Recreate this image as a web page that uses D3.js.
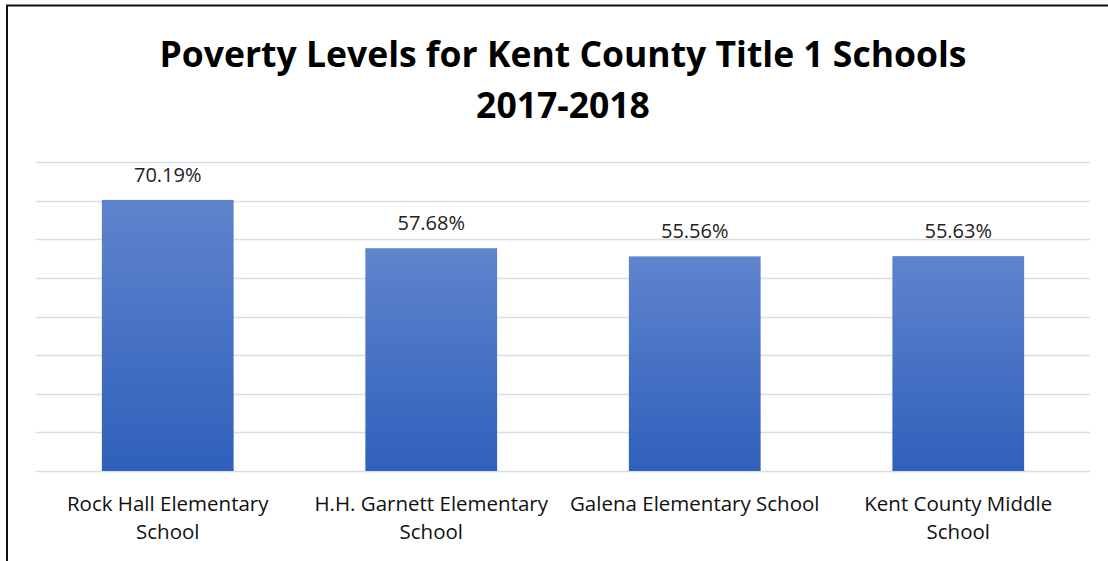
<!DOCTYPE html>
<html>
<head>
<meta charset="utf-8">
<script src="https://cdn.jsdelivr.net/npm/d3@7"></script>
<style>
  body { margin: 0; background: #fff; }
  svg { display: block; }
</style>
</head>
<body>
<div id="chart"></div>
<script>
const titleLines = ['Poverty Levels for Kent County Title 1 Schools', '2017-2018'];
const schools = ['Rock Hall Elementary School', 'H.H. Garnett Elementary School', 'Galena Elementary School', 'Kent County Middle School'];
const poverty = [70.19, 57.68, 55.56, 55.63];
const gridTicks = [0, 10, 20, 30, 40, 50, 60, 70, 80];

const W = 1108, H = 561;
const margin = { top: 162, right: 18, bottom: 90, left: 36 };
const width = W - margin.left - margin.right;
const height = H - margin.top - margin.bottom;
const font = '"Open Sans", sans-serif';

const svg = d3.select('#chart')
    .append('svg')
    .attr('width', W)
    .attr('height', H);

// bar gradient
const grad = svg.append('defs').append('linearGradient')
    .attr('id', 'barGrad')
    .attr('x1', 0).attr('y1', 0).attr('x2', 0).attr('y2', 1);
grad.append('stop').attr('offset', '0%').attr('stop-color', '#5f84cd');
grad.append('stop').attr('offset', '100%').attr('stop-color', '#2f60bb');

// outer frame (left + top)
svg.append('path')
    .attr('d', `M7,${H} V5.5 H${W}`)
    .attr('fill', 'none')
    .attr('stroke', '#111')
    .attr('stroke-width', 2);

const g = svg.append('g')
    .attr('transform', `translate(${margin.left},${margin.top})`);

const x = d3.scaleBand()
    .domain(schools)
    .range([0, width])
    .paddingInner(0.5)
    .paddingOuter(0.25);

const y = d3.scaleLinear()
    .domain([0, 80])
    .range([height, 0]);

// gridlines
g.selectAll('.grid')
    .data(gridTicks)
    .enter()
    .append('line')
    .attr('class', 'grid')
    .attr('x1', 0)
    .attr('x2', width)
    .attr('y1', d => Math.round(y(d)) + 0.5)
    .attr('y2', d => Math.round(y(d)) + 0.5)
    .attr('stroke', '#d9dde6')
    .attr('stroke-width', 1.5);

// bars
g.selectAll('.bar')
    .data(schools)
    .enter()
    .append('rect')
    .attr('class', 'bar')
    .attr('x', d => x(d))
    .attr('width', x.bandwidth())
    .attr('y', (d, i) => y(poverty[i]))
    .attr('height', (d, i) => height - y(poverty[i]))
    .attr('fill', 'url(#barGrad)');

// value labels
g.selectAll('.val')
    .data(schools)
    .enter()
    .append('text')
    .attr('class', 'val')
    .attr('x', d => x(d) + x.bandwidth() / 2)
    .attr('y', (d, i) => y(poverty[i]) - 18)
    .attr('text-anchor', 'middle')
    .style('font-family', font)
    .style('font-size', '20px')
    .style('fill', '#222')
    .text((d, i) => poverty[i].toFixed(2) + '%');

// category labels, wrapped to the band width
const maxLine = 251;
g.selectAll('.cat')
    .data(schools)
    .enter()
    .append('text')
    .attr('class', 'cat')
    .attr('text-anchor', 'middle')
    .style('font-family', font)
    .style('font-size', '20.5px')
    .style('fill', '#111')
    .each(function(d) {
        const t = d3.select(this);
        const cx = x(d) + x.bandwidth() / 2;
        const words = d.split(' ');
        const lines = [];
        let line = [];
        const probe = t.append('tspan');
        words.forEach(w => {
            line.push(w);
            probe.text(line.join(' '));
            if (probe.node().getComputedTextLength() > maxLine && line.length > 1) {
                line.pop();
                lines.push(line.join(' '));
                line = [w];
            }
        });
        lines.push(line.join(' '));
        probe.remove();
        lines.forEach((l, i) => {
            t.append('tspan')
                .attr('x', cx)
                .attr('y', height + 40 + i * 27.5)
                .text(l);
        });
    });

// title
svg.selectAll('.title')
    .data(titleLines)
    .enter()
    .append('text')
    .attr('class', 'title')
    .attr('x', margin.left + width / 2)
    .attr('y', (d, i) => 67 + i * 51)
    .attr('text-anchor', 'middle')
    .style('font-family', font)
    .style('font-weight', 'bold')
    .style('font-size', '35.5px')
    .style('fill', '#000')
    .text(d => d);
</script>
</body>
</html>
